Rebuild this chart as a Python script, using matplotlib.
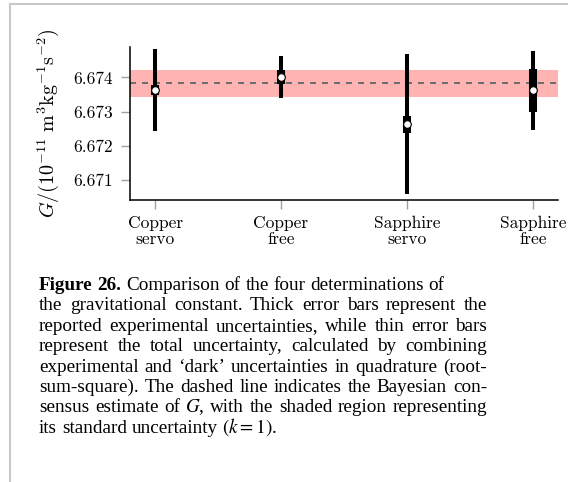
import matplotlib
matplotlib.use("Agg")
import matplotlib.pyplot as plt
from matplotlib.lines import Line2D

plt.rcParams["font.family"] = "cmr10"
plt.rcParams["mathtext.fontset"] = "cm"
plt.rcParams["axes.formatter.use_mathtext"] = True

# G determinations (units of 1e-11 m^3 kg^-1 s^-2)
experiments = ["Copper\nservo", "Copper\nfree", "Sapphire\nservo", "Sapphire\nfree"]
g_values = [6.67364, 6.67401, 6.67263, 6.67362]
u_exp = [0.00015, 0.00020, 0.00025, 0.00062]      # thick bars
u_total = [0.00120, 0.00061, 0.00206, 0.00116]    # thin bars

consensus = 6.67385
consensus_lo = 6.67342
consensus_hi = 6.67423

yticks = [6.671, 6.672, 6.673, 6.674]
ytick_labels = ["6.671", "6.672", "6.673", "6.674"]

caption_lines = [
    "**Figure **26. Comparison of the four determinations of",
    "the gravitational constant. Thick error bars represent the",
    "reported experimental uncertainties, while thin error bars",
    "represent the total uncertainty, calculated by combining",
    "experimental and \u2018dark\u2019 uncertainties in quadrature (root-",
    "sum-square). The dashed line indicates the Bayesian con-",
    "sensus estimate of $G$, with the shaded region representing",
    "its standard uncertainty $(k=1)$.",
]
justified = [False, True, True, True, True, True, True, False]

W, H = 568, 482
fig = plt.figure(figsize=(W / 100, H / 100), dpi=100)
ax = fig.add_axes([130 / W, 1 - 200 / H, 428 / W, 153 / H])

x = list(range(len(experiments)))

ax.axhspan(consensus_lo, consensus_hi, color="#ffb3b3", lw=0, zorder=1)
ax.axhline(consensus, color="#6e6e6e", lw=1.44, dashes=(3, 3), zorder=2)

ax.vlines(x, [g - u for g, u in zip(g_values, u_total)],
          [g + u for g, u in zip(g_values, u_total)],
          color="black", lw=2.9, capstyle="butt", zorder=3)
ax.vlines(x, [g - u for g, u in zip(g_values, u_exp)],
          [g + u for g, u in zip(g_values, u_exp)],
          color="black", lw=5.8, capstyle="butt", zorder=4)
ax.plot(x, g_values, "o", ms=5.5, mfc="white", mec="black", mew=0.8, zorder=5)

ax.set_xlim(-0.2, 3.2)
ax.set_ylim(6.670407, 6.674891)
ax.set_yticks(yticks, ytick_labels)
ax.set_xticks(x, experiments)

for side in ["top", "right"]:
    ax.spines[side].set_visible(False)
for side in ["left", "bottom"]:
    ax.spines[side].set_linewidth(1.1)

ax.tick_params(axis="both", colors="#a0a0a0", length=6.5, width=1.0,
               labelcolor="black", labelsize=12.5)
ax.tick_params(axis="y", pad=5.8)
ax.tick_params(axis="x", pad=5)
for lab in ax.get_xticklabels():
    lab.set_linespacing(1.05)

ax.set_ylabel(r"$G/(10^{-11}\ \mathrm{m}^3\mathrm{kg}^{-1}\mathrm{s}^{-2})$", fontsize=14.5)
ax.yaxis.label.set_va("center")
ax.yaxis.set_label_coords((48 - 130) / 428, 0.5)

# light frame around the figure panel
fig.add_artist(Line2D([10 / W, 1], [1 - 4 / H, 1 - 4 / H], transform=fig.transFigure,
                      color="#c8c8c8", lw=1.5))
fig.add_artist(Line2D([10 / W, 10 / W], [0, 1 - 4 / H], transform=fig.transFigure,
                      color="#c8c8c8", lw=1.5))

# caption, word by word so lines can be justified
cap_size = 13.8
left_px, right_px = 39, 487
base0, step = 290, 20.4
renderer = fig.canvas.get_renderer()
space_px = 0.25 * cap_size * 100 / 72

for i, line in enumerate(caption_lines):
    words = line.split(" ")
    texts = []
    for w in words:
        weight = "normal"
        if w.startswith("**"):
            w = w[2:]
            weight = "bold"
        t = fig.text(0, 0, w, fontsize=cap_size, family="Liberation Serif",
                     math_fontfamily="stix", weight=weight, va="baseline", ha="left")
        texts.append(t)
    widths = [t.get_window_extent(renderer).width for t in texts]
    if justified[i] and len(words) > 1:
        gap = (right_px - left_px - sum(widths)) / (len(words) - 1)
    else:
        gap = space_px
    xp = left_px
    yp = base0 + i * step
    for t, wd in zip(texts, widths):
        t.set_position((xp / W, 1 - yp / H))
        xp += wd + gap

fig.savefig("out.png", dpi=100)
